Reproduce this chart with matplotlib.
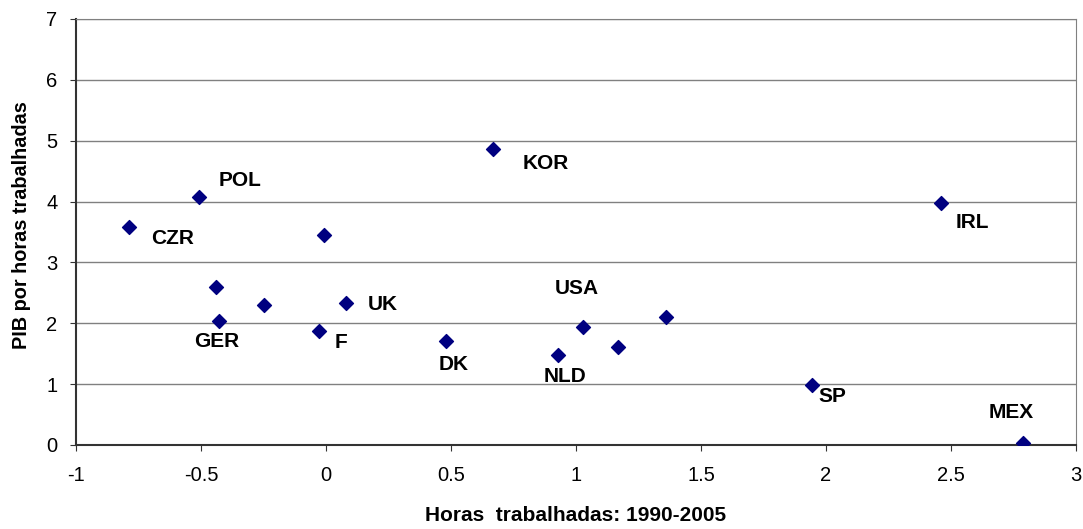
import matplotlib.pyplot as plt

plt.rcParams['font.family'] = ['Liberation Sans', 'DejaVu Sans']

# horas trabalhadas (x) vs PIB por horas trabalhadas (y)
horas = [-0.79, -0.51, -0.01, -0.44, -0.43, -0.25, -0.03, 0.08,
         0.67, 0.48, 0.93, 1.03, 1.17, 1.36, 2.46, 1.945, 2.79]
pib = [3.58, 4.07, 3.45, 2.60, 2.04, 2.30, 1.87, 2.34,
       4.86, 1.71, 1.48, 1.94, 1.61, 2.10, 3.98, 0.99, 0.03]
paises = ['CZR', 'POL', '', '', 'GER', '', 'F', 'UK',
          'KOR', 'DK', 'NLD', 'USA', '', '', 'IRL', 'SP', 'MEX']
# label offsets in pixels relative to each point
offsets = [(23, -11), (20, 17), None, None, (-24, -21), None, (16, -11), (22, -2),
           (29, -14), (-7, -24), (-15, -22), (-29, 38), None, None, (15, -20), (6, -12), (-35, 31)]

fig = plt.figure(figsize=(10.83, 5.29), dpi=100)
ax = fig.add_axes([0.0702, 0.1588, 0.9233, 0.8053])

ax.scatter(horas, pib, marker='D', s=50, color='#000080', zorder=3)

for x, y, nome, off in zip(horas, pib, paises, offsets):
    if nome:
        ax.annotate(nome, (x, y), xytext=off, textcoords='offset pixels',
                    ha='left', va='center', fontsize=15, fontweight='bold')

ax.set_xlim(-1, 3)
ax.set_ylim(0, 7)
ax.set_xticks([-1, -0.5, 0, 0.5, 1, 1.5, 2, 2.5, 3])
ax.set_xticklabels(['-1', '-0.5', '0', '0.5', '1', '1.5', '2', '2.5', '3'])
ax.set_yticks(range(0, 8))
ax.tick_params(axis='both', labelsize=14.5, direction='out', length=4.3, color='#333333')
ax.tick_params(axis='y', pad=9)
ax.tick_params(axis='x', pad=11)

ax.grid(axis='y', color='#808080', linewidth=1)
ax.set_axisbelow(True)
for side in ['left', 'bottom']:
    ax.spines[side].set_color('#333333')
    ax.spines[side].set_linewidth(1.5)
ax.spines['right'].set_color('#808080')
ax.spines['top'].set_color('#808080')

ax.set_xlabel('Horas  trabalhadas: 1990-2005', fontsize=15, fontweight='bold', labelpad=15)
ax.set_ylabel('PIB por horas trabalhadas', fontsize=14.3, fontweight='bold', labelpad=10)
ax.yaxis.set_label_coords(-0.045, 0.516)

fig.savefig('out.png', dpi=100)
